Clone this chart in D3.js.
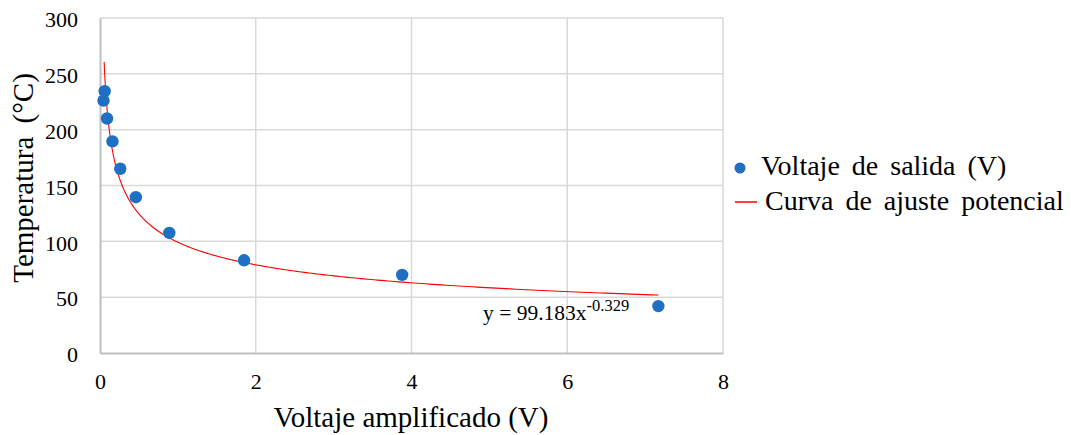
<!DOCTYPE html>
<html><head><meta charset="utf-8">
<script src="https://cdn.jsdelivr.net/npm/d3@7"></script>
<style>body{margin:0;background:#fff}svg{display:block}</style>
</head><body><svg id="c" width="1071" height="435"></svg>
<script>
const voltage = [0.045, 0.06, 0.09, 0.16, 0.26, 0.46, 0.89, 1.85, 3.88, 7.17];
const temperature = [226, 234.5, 210, 189.5, 165, 139.5, 107.5, 83, 70, 42];
const fitA = 99.183, fitB = -0.329;
const fitRange = [0.053, 7.17];
const xTicks = [0, 2, 4, 6, 8];
const yTicks = [0, 50, 100, 150, 200, 250, 300];
const seriesName = "Voltaje de salida (V)";
const fitName = "Curva de ajuste potencial";
const equationBase = "y = 99.183x";
const equationExp = "-0.329";

const FONT = "'Liberation Serif'";
const svg = d3.select("#c");
const x = d3.scaleLinear().domain([0, 8]).range([100, 723]);
const y = d3.scaleLinear().domain([0, 300]).range([353, 18]);

// gridlines
svg.append("g").selectAll("line").data(yTicks.filter(d => d > 0)).join("line")
  .attr("x1", x(0)).attr("x2", x(8)).attr("y1", d => y(d)).attr("y2", d => y(d))
  .attr("stroke", "#d9d9d9").attr("stroke-width", 1.5);
svg.append("g").selectAll("line").data(xTicks.filter(d => d > 0)).join("line")
  .attr("y1", y(0)).attr("y2", y(300)).attr("x1", d => x(d)).attr("x2", d => x(d))
  .attr("stroke", "#d9d9d9").attr("stroke-width", 1.5);

// axes
const xAxis = svg.append("g").attr("transform", `translate(0,${y(0)})`)
  .call(d3.axisBottom(x).tickValues(xTicks).tickSize(0).tickPadding(0));
const yAxis = svg.append("g").attr("transform", `translate(${x(0)},0)`)
  .call(d3.axisLeft(y).tickValues(yTicks).tickSize(0).tickPadding(22));
[xAxis, yAxis].forEach(a => {
  a.attr("font-family", FONT).attr("font-size", 22);
  a.select(".domain").attr("stroke", "#bfbfbf").attr("stroke-width", 2);
  a.selectAll("text").attr("fill", "#000").attr("font-family", FONT).attr("font-size", 22);
});
yAxis.selectAll("text").attr("dy", "0.4em");
xAxis.selectAll("text").attr("y", 36).attr("dy", 0);

// fit curve
const fitX = d3.range(0, 401).map(i => fitRange[0] * Math.pow(fitRange[1] / fitRange[0], i / 400));
const line = d3.line().x(d => x(d)).y(d => y(fitA * Math.pow(d, fitB)));
svg.append("path").datum(fitX).attr("d", line).attr("fill", "none")
  .attr("stroke", "#ff0000").attr("stroke-width", 1.1);

// points
svg.append("g").selectAll("circle").data(voltage.map((v, i) => [v, temperature[i]])).join("circle")
  .attr("cx", d => x(d[0])).attr("cy", d => y(d[1])).attr("r", 6.2).attr("fill", "#1f6fc2");

// equation
const eq = svg.append("text").attr("x", 483).attr("y", 320)
  .attr("font-family", FONT).attr("font-size", 21.5);
eq.append("tspan").text(equationBase);
eq.append("tspan").attr("dy", -9).attr("font-size", 16.5).text(equationExp);

// axis titles
svg.append("text").attr("x", 411).attr("y", 427).attr("text-anchor", "middle")
  .attr("font-family", FONT).attr("font-size", 29).text("Voltaje amplificado (V)");
svg.append("text").attr("transform", "translate(33,178) rotate(-90)").attr("text-anchor", "middle")
  .attr("font-family", FONT).attr("font-size", 29).style("word-spacing", "6px").text("Temperatura (°C)");

// legend
svg.append("circle").attr("cx", 740).attr("cy", 168).attr("r", 5.5).attr("fill", "#1f6fc2");
svg.append("text").attr("x", 761).attr("y", 175).attr("font-family", FONT).attr("font-size", 28)
  .style("word-spacing", "5px").text(seriesName);
svg.append("line").attr("x1", 735).attr("x2", 757).attr("y1", 202).attr("y2", 202)
  .attr("stroke", "#ff0000").attr("stroke-width", 1.5);
svg.append("text").attr("x", 765).attr("y", 210).attr("font-family", FONT).attr("font-size", 28)
  .style("word-spacing", "5px").text(fitName);
</script></body></html>
